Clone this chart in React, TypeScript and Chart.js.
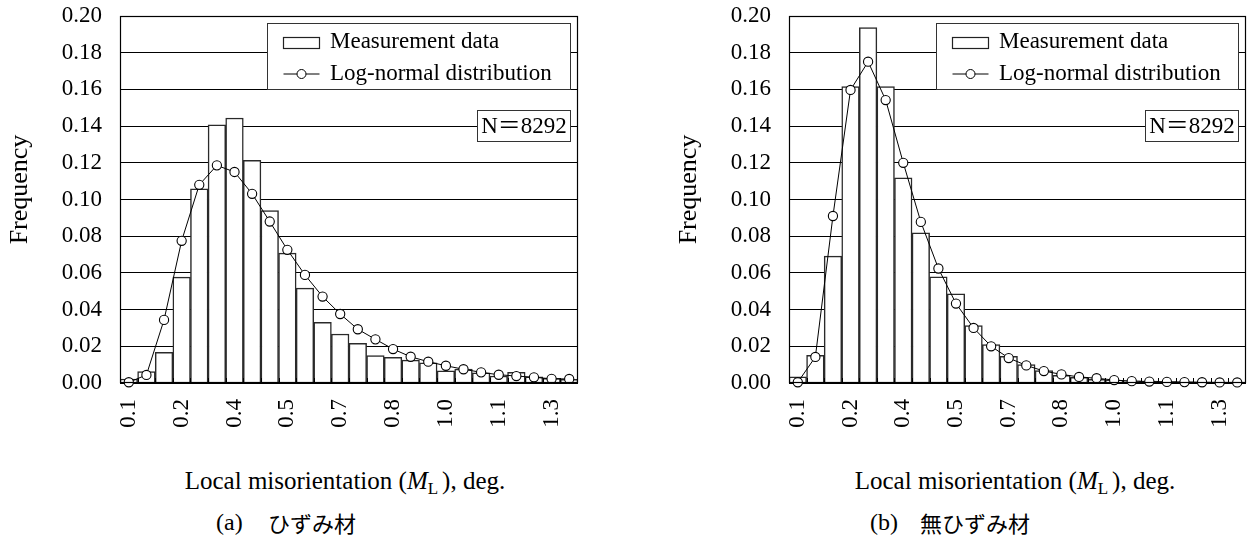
import React, { useEffect, useRef } from "react";
import { Chart, registerables } from "chart.js";

Chart.register(...registerables);

// ---- data ----
const binStarts = [
  "0.10", "0.15", "0.20", "0.25", "0.30", "0.35", "0.40", "0.45", "0.50", "0.55",
  "0.60", "0.65", "0.70", "0.75", "0.80", "0.85", "0.90", "0.95", "1.00", "1.05",
  "1.10", "1.15", "1.20", "1.25", "1.30", "1.35",
];
const tickLabels = ["0.1", "0.2", "0.4", "0.5", "0.7", "0.8", "1.0", "1.1", "1.3"];
const tickEvery = 3;

const measuredA = [
  0.0022, 0.0062, 0.0167, 0.0577, 0.1058, 0.1407, 0.1444, 0.1213, 0.094, 0.0708,
  0.0517, 0.0331, 0.0267, 0.0216, 0.0149, 0.014, 0.0125, 0.011, 0.0067, 0.0076,
  0.0056, 0.0038, 0.0058, 0.0034, 0.0026, 0.002,
];
const lognormalA = [
  0.0004, 0.0044, 0.0344, 0.0775, 0.108, 0.1186, 0.115, 0.1031, 0.088, 0.0726,
  0.0589, 0.0471, 0.0376, 0.0293, 0.0238, 0.0185, 0.0143, 0.0116, 0.0094, 0.0075,
  0.0058, 0.0045, 0.0038, 0.0031, 0.0023, 0.0022,
];
const measuredB = [
  0.0033, 0.0151, 0.0691, 0.1615, 0.1937, 0.1615, 0.1118, 0.0818, 0.0578, 0.0486,
  0.0313, 0.0209, 0.0146, 0.01, 0.0068, 0.0042, 0.0031, 0.002, 0.0015, 0.0012,
  0.001, 0.0008, 0.0006, 0.0005, 0.0004, 0.0003,
];
const lognormalB = [
  0.0004, 0.0142, 0.091, 0.1597, 0.1751, 0.1542, 0.12, 0.0878, 0.0624, 0.0433,
  0.03, 0.02, 0.0136, 0.0096, 0.0065, 0.0047, 0.0033, 0.0026, 0.0016, 0.001,
  0.0008, 0.0006, 0.0005, 0.0004, 0.0003, 0.0003,
];

const sampleCount = "N\uFF1D8292";
const legendBarLabel = "Measurement data";
const legendLineLabel = "Log-normal distribution";
const yTitle = "Frequency";

const SERIF = '"Liberation Serif", "Noto Sans CJK JP", serif';

const overlayPlugin = {
  id: "overlay",
  afterDatasetsDraw(chart: any) {
    const { ctx, chartArea: a, scales } = chart;
    const x = scales.x;
    ctx.save();
    ctx.strokeStyle = "#000";
    ctx.lineWidth = 1;
    // inward ticks on the x axis at bin boundaries
    const n = chart.data.labels.length;
    const step = x.getPixelForValue(1) - x.getPixelForValue(0);
    ctx.beginPath();
    for (let i = 1; i < n; i++) {
      const px = Math.round(x.getPixelForValue(i) - step / 2) + 0.5;
      ctx.moveTo(px, a.bottom);
      ctx.lineTo(px, a.bottom - 5);
    }
    ctx.stroke();
    // frame
    ctx.lineWidth = 1.2;
    ctx.strokeRect(Math.round(a.left) + 0.5, Math.round(a.top) + 0.5, Math.round(a.width) - 1, Math.round(a.height) - 1);

    // legend box
    ctx.lineWidth = 1;
    const lx = Math.round(a.left + 146.5) + 0.5;
    const ly = Math.round(a.top + 7) + 0.5;
    const lw = Math.round(a.right - 8 - lx);
    const lh = 66;
    ctx.fillStyle = "#fff";
    ctx.fillRect(lx, ly, lw, lh);
    ctx.strokeStyle = "#333";
    ctx.strokeRect(lx, ly, lw, lh);
    // bar swatch
    const sx = Math.round(a.left + 163) + 0.5;
    ctx.strokeStyle = "#222";
    ctx.lineWidth = 1.2;
    ctx.strokeRect(sx, Math.round(a.top + 20.5) + 0.5, 36, 11);
    // line swatch
    const r2 = a.top + 58;
    ctx.beginPath();
    ctx.moveTo(sx, r2);
    ctx.lineTo(sx + 36, r2);
    ctx.strokeStyle = "#000";
    ctx.lineWidth = 1;
    ctx.stroke();
    ctx.beginPath();
    ctx.arc(sx + 18, r2, 4.5, 0, Math.PI * 2);
    ctx.fillStyle = "#fff";
    ctx.fill();
    ctx.stroke();
    // legend text
    ctx.fillStyle = "#000";
    ctx.font = `23px ${SERIF}`;
    ctx.textAlign = "left";
    ctx.textBaseline = "middle";
    ctx.fillText(legendBarLabel, a.left + 210, a.top + 26);
    ctx.fillText(legendLineLabel, a.left + 210, r2);

    // N box
    const nr = Math.round(a.right - 8.5) + 0.5;
    const nw = 93;
    const nt = Math.round(a.top + 94) + 0.5;
    const nh = 31;
    ctx.fillStyle = "#fff";
    ctx.fillRect(nr - nw, nt, nw, nh);
    ctx.strokeStyle = "#333";
    ctx.strokeRect(nr - nw, nt, nw, nh);
    ctx.fillStyle = "#000";
    ctx.textAlign = "center";
    ctx.fillText(sampleCount, nr - nw / 2, nt + nh / 2 + 1);

    // y axis title
    ctx.save();
    ctx.translate(a.left - 100, (a.top + a.bottom) / 2 - 10);
    ctx.rotate(-Math.PI / 2);
    ctx.font = `26px ${SERIF}`;
    ctx.textAlign = "center";
    ctx.textBaseline = "middle";
    ctx.fillText(yTitle, 0, 0);
    ctx.restore();
    ctx.restore();
  },
};

function makeConfig(measured: number[], lognormal: number[], rightPad: number) {
  return {
    type: "bar" as const,
    data: {
      labels: binStarts,
      datasets: [
        {
          type: "line" as const,
          label: legendLineLabel,
          data: lognormal,
          borderColor: "#000",
          borderWidth: 1,
          pointRadius: 4.6,
          pointBorderWidth: 1.1,
          pointBackgroundColor: "#fff",
          pointBorderColor: "#000",
          tension: 0,
          clip: false as any,
          order: 0,
        },
        {
          type: "bar" as const,
          label: legendBarLabel,
          data: measured,
          backgroundColor: "#fff",
          borderColor: "#2a2a2a",
          borderWidth: 1.5,
          barPercentage: 1,
          categoryPercentage: 1,
          order: 1,
        },
      ],
    },
    options: {
      responsive: false,
      animation: false as const,
      devicePixelRatio: 1,
      layout: { padding: { top: 16, left: 0, right: rightPad, bottom: 0 } },
      plugins: { legend: { display: false }, tooltip: { enabled: false } },
      scales: {
        x: {
          type: "category" as const,
          offset: true,
          grid: { display: false, drawTicks: false },
          border: { display: false },
          ticks: {
            autoSkip: false,
            minRotation: 90,
            maxRotation: 90,
            padding: 16,
            color: "#000",
            font: { family: SERIF, size: 23 },
            callback: (_v: any, i: number) => (i % tickEvery === 0 ? tickLabels[i / tickEvery] : ""),
          },
          afterFit: (s: any) => {
            s.height = 57;
            s.paddingLeft = 0;
            s.paddingRight = 0;
          },
        },
        y: {
          min: 0,
          max: 0.2,
          grid: { color: "#000", lineWidth: 1, drawTicks: false },
          border: { display: false },
          ticks: {
            stepSize: 0.02,
            padding: 18,
            color: "#000",
            font: { family: SERIF, size: 23 },
            callback: (v: any) => Number(v).toFixed(2),
          },
          afterFit: (s: any) => {
            s.width = 120;
            s.paddingTop = 0;
            s.paddingBottom = 0;
          },
        },
      },
    },
    plugins: [overlayPlugin],
  };
}

function Panel(props: { measured: number[]; lognormal: number[]; left: number; width: number; rightPad: number }) {
  const ref = useRef<HTMLCanvasElement | null>(null);
  useEffect(() => {
    if (!ref.current) return;
    const chart = new Chart(ref.current, makeConfig(props.measured, props.lognormal, props.rightPad) as any);
    return () => chart.destroy();
  }, []);
  return (
    <canvas
      ref={ref}
      width={props.width}
      height={440}
      style={{ position: "absolute", left: props.left, top: 0, width: props.width, height: 440 }}
    />
  );
}

function AxisTitle(props: { center: number }) {
  return (
    <div
      style={{
        position: "absolute",
        left: props.center - 250,
        top: 466,
        width: 500,
        textAlign: "center",
        fontSize: 25,
        lineHeight: "30px",
        whiteSpace: "nowrap",
      }}
    >
      Local misorientation (<i>M</i>
      <span style={{ fontSize: 17, position: "relative", top: 5 }}>L</span>
      <span style={{ marginLeft: 4 }}>), deg.</span>
    </div>
  );
}

function Caption(props: { left: number; textLeft: number; tag: string; text: string }) {
  return (
    <>
      <div
        style={{
          position: "absolute",
          left: props.left,
          top: 507,
          fontSize: 24,
          lineHeight: "30px",
          whiteSpace: "nowrap",
        }}
      >
        {props.tag}
      </div>
      <div
        style={{
          position: "absolute",
          left: props.textLeft,
          top: 507,
          fontSize: 22,
          lineHeight: "30px",
          whiteSpace: "nowrap",
          fontFamily: '"Noto Sans CJK JP", sans-serif',
        }}
      >
        {props.text}
      </div>
    </>
  );
}

export default function App() {
  return (
    <div
      style={{
        position: "absolute",
        left: 0,
        top: 0,
        width: 1253,
        height: 540,
        overflow: "hidden",
        background: "#fff",
        color: "#000",
        fontFamily: SERIF,
      }}
    >
      <Panel measured={measuredA} lognormal={lognormalA} left={0} width={600} rightPad={22} />
      <Panel measured={measuredB} lognormal={lognormalB} left={669} width={584} rightPad={7} />
      <AxisTitle center={345} />
      <AxisTitle center={1015} />
      <Caption left={216} textLeft={268} tag="(a)" text="ひずみ材" />
      <Caption left={870} textLeft={920} tag="(b)" text="無ひずみ材" />
    </div>
  );
}
